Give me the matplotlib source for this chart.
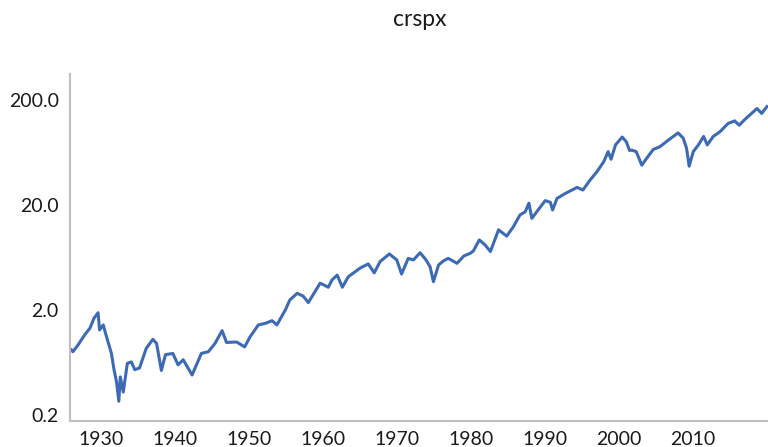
import matplotlib.pyplot as plt
from matplotlib.ticker import FixedLocator, FuncFormatter

plt.rcParams['font.family'] = ['Lato', 'DejaVu Sans']

# decimal year / index level
years = [1926.0, 1926.2, 1926.9, 1927.8, 1928.5, 1929.05, 1929.6, 1929.8, 1930.3,
         1930.6, 1930.95, 1931.4, 1931.75, 1932.1, 1932.4, 1932.6, 1933.0, 1933.55,
         1934.1, 1934.55, 1935.2, 1936.1, 1937.0, 1937.5, 1938.15, 1938.7, 1939.7,
         1940.4, 1941.1, 1942.3, 1943.55, 1944.5, 1945.4, 1946.35, 1946.95, 1948.3,
         1949.4, 1950.1, 1951.25, 1952.2, 1953.1, 1953.75, 1954.9, 1955.5, 1956.5,
         1957.3, 1958.0, 1959.6, 1960.7, 1961.2, 1961.9, 1962.6, 1963.4, 1965.0,
         1966.1, 1966.9, 1967.7, 1968.95, 1969.95, 1970.6, 1971.5, 1972.2, 1973.1,
         1973.9, 1974.45, 1974.9, 1975.6, 1976.3, 1976.9, 1978.1, 1979.0, 1979.9,
         1980.3, 1981.1, 1981.9, 1982.6, 1983.7, 1984.8, 1985.7, 1986.6, 1987.3,
         1987.8, 1988.2, 1988.85, 1990.0, 1990.7, 1991.0, 1991.6, 1992.7, 1994.3,
         1995.1, 1996.1, 1997.0, 1997.9, 1998.5, 1998.9, 1999.5, 2000.4, 2000.95,
         2001.4, 2001.7, 2002.3, 2003.05, 2003.7, 2004.6, 2005.5, 2006.6, 2007.3,
         2007.95, 2008.65, 2009.1, 2009.45, 2010.0, 2010.7, 2011.4, 2011.9, 2012.7,
         2013.6, 2014.7, 2015.6, 2016.2, 2016.95, 2018.1, 2018.6, 2019.25, 2019.95]
values = [0.83, 0.80, 0.93, 1.16, 1.34, 1.67, 1.88, 1.29, 1.44,
          1.20, 0.99, 0.77, 0.54, 0.41, 0.27, 0.46, 0.33, 0.62,
          0.64, 0.54, 0.56, 0.86, 1.05, 0.96, 0.53, 0.75, 0.77,
          0.60, 0.67, 0.48, 0.77, 0.80, 0.96, 1.27, 0.98, 0.99,
          0.89, 1.10, 1.44, 1.49, 1.58, 1.44, 2.00, 2.49, 2.88,
          2.71, 2.35, 3.60, 3.29, 3.86, 4.30, 3.29, 4.14, 5.01,
          5.49, 4.51, 5.78, 6.83, 5.99, 4.40, 6.20, 5.99, 7.02,
          5.99, 5.16, 3.72, 5.37, 5.89, 6.20, 5.56, 6.53, 6.94,
          7.30, 9.29, 8.30, 7.20, 11.6, 10.1, 12.4, 16.1, 17.2,
          20.8, 14.9, 17.2, 22.0, 21.2, 17.9, 23.1, 25.7, 29.4,
          27.8, 34.8, 41.6, 51.5, 64.4, 54.5, 74.7, 88.7, 80.2,
          66.0, 66.6, 64.4, 47.9, 55.6, 67.6, 71.8, 82.6, 89.9,
          97.3, 86.5, 69.4, 46.8, 64.4, 74.7, 89.9, 74.7, 89.9,
          99.5, 119.5, 126.5, 115.0, 130.0, 154.0, 166.0, 149.0, 173.0]

y_ticks = [0.2, 2.0, 20.0, 200.0]
x_ticks = [1930, 1940, 1950, 1960, 1970, 1980, 1990, 2000, 2010]

fig = plt.figure(figsize=(7.68, 4.47), dpi=100)
ax = fig.add_axes([0.0911, 0.0582, 0.9089, 0.7763])

ax.plot(years, values, color='#3D6AB5', linewidth=2.2)

ax.set_yscale('log')
ax.set_ylim(0.175, 354)
ax.set_xlim(1925.8, 2020.1)
ax.yaxis.set_major_locator(FixedLocator(y_ticks))
ax.yaxis.set_minor_locator(FixedLocator([]))
ax.yaxis.set_major_formatter(FuncFormatter(lambda v, p: f"{v:.1f}"))
ax.set_xticks(x_ticks)

ax.tick_params(axis='both', length=0, labelsize=14, colors='#1a1a1a')
ax.tick_params(axis='y', pad=8)
ax.tick_params(axis='x', pad=7)

for s in ['top', 'right']:
    ax.spines[s].set_visible(False)
for s in ['left', 'bottom']:
    ax.spines[s].set_color('#BFBFBF')
    ax.spines[s].set_linewidth(1.5)

fig.text(420 / 768, 1 - 20 / 447, 'crspx', ha='center', va='center',
         fontsize=16.5, color='#1a1a1a')

plt.savefig('out.png', dpi=100)
